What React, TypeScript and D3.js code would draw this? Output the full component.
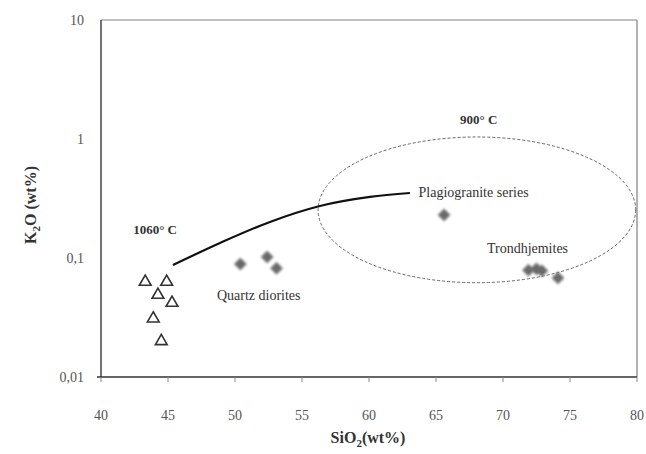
import React from "react";
import * as d3 from "d3";

const xTicks = [40, 45, 50, 55, 60, 65, 70, 75, 80];
const yTicks = [0.01, 0.1, 1, 10];
const yTickLabels = ["0,01", "0,1", "1", "10"];

const triSiO2 = [43.3, 44.9, 44.25, 45.3, 43.9, 44.5];
const triK2O = [0.063, 0.063, 0.049, 0.042, 0.031, 0.02];

const diaSiO2 = [50.4, 52.4, 53.1, 65.6, 71.9, 72.5, 72.9, 74.1];
const diaK2O = [0.089, 0.102, 0.082, 0.23, 0.079, 0.081, 0.078, 0.068];

const curveSiO2 = [45.37, 48.88, 52.61, 56.34, 60.07, 63.06];
const curveK2O = [0.0873, 0.1337, 0.201, 0.2735, 0.326, 0.3516];

// ellipse extent in data units: [minSiO2, maxSiO2], [minK2O, maxK2O]
const ellipseSiO2 = [56.2, 79.9];
const ellipseK2O = [0.062, 1.04];

const labelTexts = ["1060° C", "900° C", "Plagiogranite series", "Quartz diorites", "Trondhjemites"];
const labelSiO2 = [42.4, 66.8, 63.7, 48.65, 68.8];
const labelK2O = [0.16, 1.34, 0.326, 0.0444, 0.11];
const labelBold = [true, true, false, false, false];

export default function App() {
  const W = 646, H = 454;
  const left = 101, right = 637, top = 20, bottom = 377;
  const x = d3.scaleLinear().domain([40, 80]).range([left, right]);
  const y = d3.scaleLog().domain([0.01, 10]).range([bottom, top]);

  const line = d3
    .line<number>()
    .x((_, i) => x(curveSiO2[i]))
    .y((_, i) => y(curveK2O[i]))
    .curve(d3.curveMonotoneX);
  const curvePath = line(curveSiO2) || "";

  const tri = d3.symbol(d3.symbolTriangle, 60)() || "";
  const sq = d3.symbol(d3.symbolSquare, 80)() || "";

  const ex0 = x(ellipseSiO2[0]), ex1 = x(ellipseSiO2[1]);
  const ey0 = y(ellipseK2O[1]), ey1 = y(ellipseK2O[0]);

  return (
    <svg width={W} height={H} style={{ position: "absolute", left: 0, top: 0, background: "#fff" }}
      fontFamily="'Liberation Serif', 'Times New Roman', serif">
      <defs>
        <filter id="blur" x="-50%" y="-50%" width="200%" height="200%">
          <feGaussianBlur stdDeviation="0.8" />
        </filter>
      </defs>
      {/* frame */}
      <line x1={left} x2={right} y1={top} y2={top} stroke="#aaa" strokeWidth={1.5} />
      <line x1={right} x2={right} y1={top} y2={bottom} stroke="#999" strokeWidth={1.5} />
      <line x1={left} x2={left} y1={top} y2={bottom} stroke="#444" strokeWidth={1.5} />
      <line x1={left - 4} x2={right} y1={bottom} y2={bottom} stroke="#333" strokeWidth={1.5} />
      {/* x ticks */}
      {xTicks.map((t) => (
        <g key={t}>
          <line x1={x(t)} x2={x(t)} y1={bottom} y2={bottom + 5} stroke="#888" strokeWidth={1} />
          <text x={x(t)} y={420} textAnchor="middle" fontSize={14} fill="#555">{t}</text>
        </g>
      ))}
      {yTicks.map((t, i) => (
        <text key={t} x={84} y={y(t) + 5} textAnchor="end" fontSize={14} fill="#555">{yTickLabels[i]}</text>
      ))}
      {/* axis titles */}
      <text x={368} y={443} textAnchor="middle" fontSize={16} fontWeight="bold" fill="#333">
        SiO<tspan fontSize={11} dy={4}>2</tspan><tspan dy={-4}>(wt%)</tspan>
      </text>
      <text transform="translate(36,205) rotate(-90)" textAnchor="middle" fontSize={16} fontWeight="bold" fill="#333">
        K<tspan fontSize={11} dy={4}>2</tspan><tspan dy={-4}>O (wt%)</tspan>
      </text>
      {/* ellipse */}
      <ellipse cx={(ex0 + ex1) / 2} cy={(ey0 + ey1) / 2} rx={(ex1 - ex0) / 2} ry={(ey1 - ey0) / 2}
        fill="none" stroke="#555" strokeWidth={0.9} strokeDasharray="3,2" />
      {/* curve */}
      <path d={curvePath} fill="none" stroke="#111" strokeWidth={2.2} />
      {/* triangles */}
      {triSiO2.map((v, i) => (
        <path key={i} d={tri} transform={`translate(${x(v)},${y(triK2O[i])})`} fill="none" stroke="#333" strokeWidth={1.6} />
      ))}
      {/* diamonds */}
      {diaSiO2.map((v, i) => (
        <path key={i} d={sq} transform={`translate(${x(v)},${y(diaK2O[i])}) rotate(45)`} fill="#6a6a6a" filter="url(#blur)" />
      ))}
      {/* labels */}
      {labelTexts.map((t, i) => (
        <text key={t} x={x(labelSiO2[i])} y={y(labelK2O[i])} fontSize={labelBold[i] ? 13 : 14}
          fontWeight={labelBold[i] ? "bold" : "normal"} fill="#333">{t}</text>
      ))}
    </svg>
  );
}
